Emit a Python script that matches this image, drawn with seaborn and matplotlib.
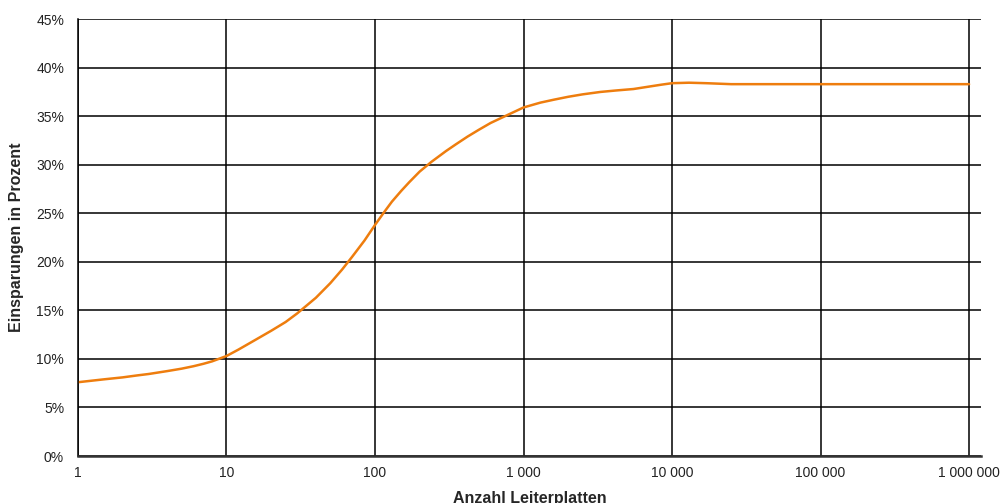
import matplotlib
matplotlib.use("Agg")
import matplotlib.pyplot as plt
import seaborn as sns
import pandas as pd
from matplotlib.ticker import FixedLocator, FixedFormatter, NullLocator

# Anzahl Leiterplatten vs. Einsparung (%)
anzahl = [1, 1.5, 2, 2.5, 3, 4, 5, 6, 7, 8, 10, 12, 15, 20, 25, 30, 40, 50,
          60, 70, 85, 100, 115, 130, 150, 170, 200, 240, 300, 350, 420, 500,
          600, 750, 1000, 1300, 1600, 2000, 2500, 3300, 4200, 5500, 7000,
          8500, 10000, 13000, 17000, 25000, 50000, 100000, 1000000]
einsparung = [7.6, 7.9, 8.1, 8.3, 8.45, 8.75, 9.0, 9.25, 9.5, 9.75, 10.3,
              10.95, 11.8, 12.9, 13.8, 14.7, 16.3, 17.8, 19.2, 20.5, 22.2,
              23.8, 25.1, 26.2, 27.3, 28.2, 29.3, 30.3, 31.4, 32.1, 32.9,
              33.6, 34.3, 35.0, 35.9, 36.4, 36.7, 37.0, 37.25, 37.5, 37.65,
              37.8, 38.05, 38.25, 38.4, 38.45, 38.4, 38.3, 38.3, 38.3, 38.3]

xticks = [1, 10, 100, 1000, 10000, 100000, 1000000]
xtick_labels = ["1", "10", "100", "1 000", "10 000", "100 000", "1 000 000"]
yticks = [0, 5, 10, 15, 20, 25, 30, 35, 40, 45]
ytick_labels = [f"{v}%" for v in yticks]

df = pd.DataFrame({"Anzahl": anzahl, "Einsparung": einsparung})

sns.set_style("white")
plt.rcParams["font.family"] = ["Liberation Sans", "DejaVu Sans"]

fig = plt.figure(figsize=(10.02, 5.03), dpi=100)
ax = fig.add_axes([0.0778, 0.0934, 0.9012, 0.8686])

sns.lineplot(data=df, x="Anzahl", y="Einsparung", color="#ee7d0e", lw=1.8, ax=ax)

ax.set_xscale("log")
ax.set_xlim(1, 10 ** 6.08)
ax.set_ylim(0, 45)

ax.xaxis.set_major_locator(FixedLocator(xticks))
ax.xaxis.set_major_formatter(FixedFormatter(xtick_labels))
ax.xaxis.set_minor_locator(NullLocator())
ax.set_yticks(yticks)
ax.set_yticklabels(ytick_labels)
ax.tick_params(axis="both", length=0, labelsize=10, colors="#222222")
ax.tick_params(axis="x", pad=7)
ax.tick_params(axis="y", pad=10)

ax.grid(True, which="major", color="black", lw=1.1)
ax.set_axisbelow(True)
for s in ["top", "right"]:
    ax.spines[s].set_visible(False)
ax.spines["left"].set_color("black")
ax.spines["left"].set_linewidth(1.1)
ax.spines["bottom"].set_color("#333333")
ax.spines["bottom"].set_linewidth(1.8)

ax.set_xlabel("Anzahl Leiterplatten", fontsize=11.5, fontweight="bold", labelpad=8)
ax.set_ylabel("Einsparungen in Prozent", fontsize=11.5, fontweight="bold", labelpad=9)

fig.savefig("out.png", dpi=100)
